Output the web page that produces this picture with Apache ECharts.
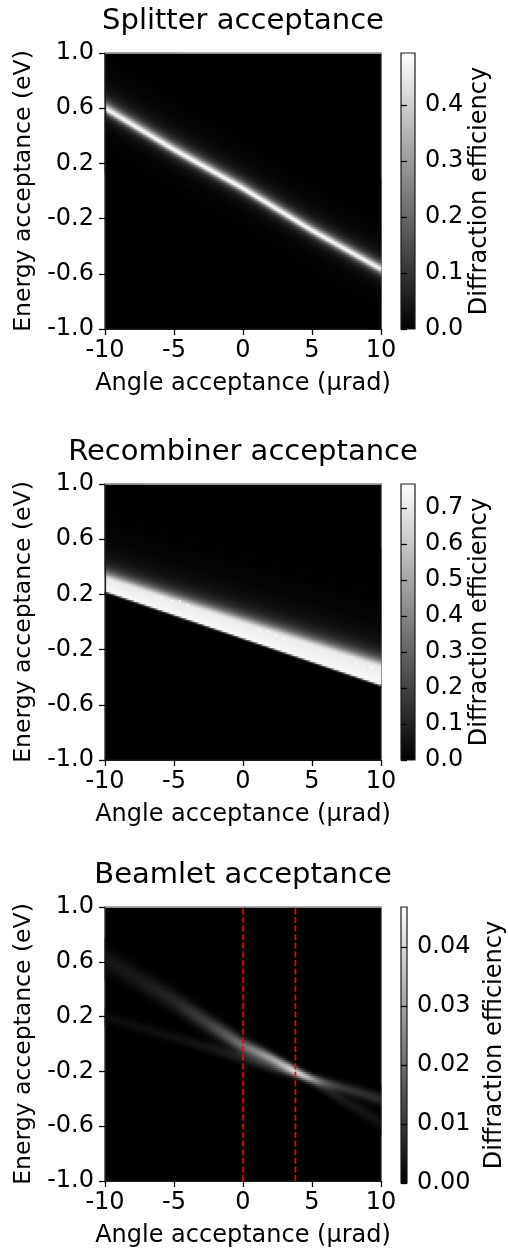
<!DOCTYPE html>
<html><head><meta charset="utf-8">
<script src="https://cdn.jsdelivr.net/npm/echarts@6/dist/echarts.min.js"></script>
<style>html,body{margin:0;padding:0;background:#fff}#c{width:508px;height:1249px}</style>
</head><body><div id="c"></div>
<script>
// ---------------- values ----------------
const titles = ['Splitter acceptance', 'Recombiner acceptance', 'Beamlet acceptance'];
const xName = 'Angle acceptance (µrad)';
const yName = 'Energy acceptance (eV)';
const cbName = 'Diffraction efficiency';
const xTicks = [-10, -5, 0, 5, 10];
const yTicks = [-1.0, -0.6, -0.2, 0.2, 0.6, 1.0];
const colorMax = [0.493, 0.767, 0.0468];
const cbTicks1 = [0, 0.1, 0.2, 0.3, 0.4];
const cbTicks2 = [0, 0.1, 0.2, 0.3, 0.4, 0.5, 0.6, 0.7];
const cbTicks3 = [0, 0.01, 0.02, 0.03, 0.04];
const cbDecimals = [1, 1, 2];

// Splitter: thin ridge (centre energy, peak, half widths above/below) sampled along the angle
const splitAngle = [-10, -5, 0, 5, 10];
const splitCenter = [0.60, 0.30, 0.02, -0.285, -0.565];
const splitPeak = [0.48, 0.49, 0.49, 0.49, 0.48];
const splitHwUp = [0.042, 0.040, 0.038, 0.036, 0.036];
const splitHwDown = [0.026, 0.026, 0.026, 0.026, 0.027];

// Recombiner: broad band with a sharp lower edge
const recAngle = [-10, -5, 0, 5, 10];
const recEdge = [0.23, 0.06, -0.11, -0.28, -0.45];
const recPlateau = [0.745, 0.745, 0.745, 0.745, 0.745];
const recWidth = [0.085, 0.09, 0.10, 0.11, 0.12];
const recTail = [0.05, 0.05, 0.052, 0.054, 0.055];
const recDotAngle = [-5.80, -5.14, -4.57, -3.99, 1.16, 1.81, 2.39, 2.97, 8.19, 8.77, 9.42];
const recDotEnergy = [0.181, 0.159, 0.145, 0.123, -0.058, -0.072, -0.094, -0.116, -0.297, -0.319, -0.333];
const recDotValue = 0.767;

// Beamlet: two crossing ridges
const beamAngle = [-10, -7.5, -5, -2.5, 0, 2, 3.5, 5, 6, 7.5, 10];
const beamACenter = [0.62, 0.47, 0.32, 0.15, -0.01, -0.10, -0.175, -0.26, -0.32, -0.42, -0.57];
const beamAAmp = [0.004, 0.005, 0.007, 0.012, 0.021, 0.029, 0.031, 0.013, 0.007, 0.0045, 0.0035];
const beamASigma = [0.065, 0.06, 0.055, 0.048, 0.04, 0.03, 0.025, 0.026, 0.03, 0.035, 0.04];
const beamBCenter = [0.20, 0.125, 0.05, -0.025, -0.10, -0.16, -0.205, -0.25, -0.28, -0.325, -0.40];
const beamBAmp = [0.0025, 0.0027, 0.003, 0.004, 0.006, 0.009, 0.015, 0.017, 0.014, 0.010, 0.008];
const beamBSigma = [0.03, 0.03, 0.03, 0.03, 0.03, 0.028, 0.024, 0.022, 0.024, 0.028, 0.032];
const beamletCuts = [0, 3.8];

// ---------------- build the heatmap cells ----------------
const NX = 138, NY = 138;
const xCats = [], yCats = [];
for (let i = 0; i < NX; i++) xCats.push((-10 + (i + 0.5) * 20 / NX).toFixed(3));
for (let j = 0; j < NY; j++) yCats.push((-1 + (j + 0.5) * 2 / NY).toFixed(4));

function lookup(xs, ys, x) {
  if (x <= xs[0]) return ys[0];
  for (let k = 1; k < xs.length; k++) {
    if (x <= xs[k]) { const t = (x - xs[k-1]) / (xs[k] - xs[k-1]); return ys[k-1] + t * (ys[k] - ys[k-1]); }
  }
  return ys[ys.length - 1];
}

function buildCells(fn, thr) {
  const out = [];
  for (let i = 0; i < NX; i++) {
    const th = +xCats[i];
    for (let j = 0; j < NY; j++) {
      const v = fn(th, +yCats[j]);
      if (v > thr) out.push([i, j, +v.toFixed(5)]);
    }
  }
  return out;
}

const split = buildCells((th, E) => {
  const c = lookup(splitAngle, splitCenter, th);
  const p = lookup(splitAngle, splitPeak, th);
  const d = E - c;
  const w = d > 0 ? lookup(splitAngle, splitHwUp, th) : lookup(splitAngle, splitHwDown, th);
  return p / (1 + (d / w) * (d / w));
}, 0.0015);

const rec = buildCells((th, E) => {
  const e = lookup(recAngle, recEdge, th);
  const P = lookup(recAngle, recPlateau, th);
  const W = lookup(recAngle, recWidth, th);
  const t0 = lookup(recAngle, recTail, th);
  const d = E - e;
  if (d < 0) return P * Math.exp(-(d / 0.011) * (d / 0.011));
  if (d <= W) return P * (1 - 0.05 * d / W);
  const t = d - W;
  return P * 0.95 / (1 + (t / t0) * (t / t0));
}, 0.003);
// bright specks inside the recombiner band
recDotAngle.forEach((a, k) => {
  const i = Math.floor((a + 10) / 20 * NX), j = Math.floor((recDotEnergy[k] + 1) / 2 * NY);
  const cell = rec.find(c => c[0] === i && c[1] === j);
  if (cell) cell[2] = recDotValue; else rec.push([i, j, recDotValue]);
});

const beam = buildCells((th, E) => {
  const ca = lookup(beamAngle, beamACenter, th), aa = lookup(beamAngle, beamAAmp, th), sa = lookup(beamAngle, beamASigma, th);
  const cb = lookup(beamAngle, beamBCenter, th), ab = lookup(beamAngle, beamBAmp, th), sb = lookup(beamAngle, beamBSigma, th);
  const da = (E - ca) / sa, db = (E - cb) / sb;
  return aa * Math.exp(-0.5 * da * da) + ab * Math.exp(-0.5 * db * db);
}, 0.0002);

// ---------------- chart ----------------
const FONT = 'DejaVu Sans';
const panels = [
  { top: 53, h: 276, data: split, cbTicks: cbTicks1, nameGapCb: 53 },
  { top: 484, h: 276, data: rec, cbTicks: cbTicks2, nameGapCb: 53 },
  { top: 907, h: 276, data: beam, cbTicks: cbTicks3, nameGapCb: 76 }
];
const L = 105, W = 276, CBL = 401, CBW = 14;

const grid = [], xAxis = [], yAxis = [], series = [], visualMap = [], graphic = [];
const lineCol = '#1a1a1a';
panels.forEach((p, k) => {
  grid.push({ left: L, top: p.top, width: W, height: p.h, show: true, backgroundColor: '#000', borderColor: lineCol, borderWidth: 1.2 });
});
panels.forEach((p, k) => {
  grid.push({ left: CBL, top: p.top, width: CBW, height: p.h, show: true,
    backgroundColor: new echarts.graphic.LinearGradient(0, 0, 0, 1, [{ offset: 0, color: '#fff' }, { offset: 1, color: '#000' }]),
    borderColor: lineCol, borderWidth: 1.2 });
});

const tickLabel = { fontFamily: FONT, fontSize: 24, color: '#000' };
panels.forEach((p, k) => {
  xAxis.push({ type: 'category', gridIndex: k, data: xCats, show: false });
  yAxis.push({ type: 'category', gridIndex: k, data: yCats, show: false });
  xAxis.push({ type: 'value', gridIndex: k, position: 'bottom', min: -10, max: 10, interval: 5, z: 10,
    axisLine: { show: true, onZero: false, lineStyle: { color: lineCol, width: 1.2 } },
    axisTick: { show: true, length: 6, lineStyle: { color: '#000', width: 1.3 } },
    axisLabel: { ...tickLabel, margin: 10, formatter: v => String(v) },
    splitLine: { show: false },
    name: xName, nameLocation: 'middle', nameGap: 43, nameTextStyle: { fontFamily: FONT, fontSize: 24, color: '#000' } });
  yAxis.push({ type: 'value', gridIndex: k, position: 'left', min: -1, max: 1, z: 10,
    axisLine: { show: true, onZero: false, lineStyle: { color: lineCol, width: 1.2 } },
    axisTick: { show: true, length: 6, customValues: yTicks, lineStyle: { color: '#000', width: 1.3 } },
    axisLabel: { ...tickLabel, margin: 11, customValues: yTicks, formatter: v => v.toFixed(1) },
    splitLine: { show: false },
    name: yName, nameLocation: 'middle', nameGap: 65, nameRotate: 90, nameTextStyle: { fontFamily: FONT, fontSize: 23.5, color: '#000' } });
});
panels.forEach((p, k) => {
  xAxis.push({ type: 'value', gridIndex: 3 + k, show: false, min: 0, max: 1 });
  yAxis.push({ type: 'value', gridIndex: 3 + k, position: 'right', min: 0, max: colorMax[k],
    axisLine: { show: false },
    axisTick: { show: true, length: 6, customValues: p.cbTicks, lineStyle: { color: '#000', width: 1.3 } },
    axisLabel: { ...tickLabel, margin: 10, customValues: p.cbTicks, formatter: v => v.toFixed(cbDecimals[k]) },
    splitLine: { show: false },
    name: cbName, nameLocation: 'middle', nameGap: p.nameGapCb, nameRotate: 90, nameTextStyle: { fontFamily: FONT, fontSize: 24, color: '#000' } });
});
panels.forEach((p, k) => {
  xAxis.push({ type: 'value', gridIndex: k, position: 'top', min: -10, max: 10, z: 10,
    axisLine: { show: true, onZero: false, lineStyle: { color: '#b8b8b8', width: 1.5 } },
    axisTick: { show: false }, axisLabel: { show: false }, splitLine: { show: false } });
});

panels.forEach((p, k) => {
  series.push({ type: 'heatmap', xAxisIndex: 2 * k, yAxisIndex: 2 * k, data: p.data, progressive: 0,
    emphasis: { disabled: true }, silent: true, animation: false });
  visualMap.push({ type: 'continuous', show: false, seriesIndex: k, dimension: 2, min: 0, max: colorMax[k],
    inRange: { color: ['#000000', '#ffffff'] } });
  graphic.push({ type: 'text', x: L + W / 2, y: p.top - 32,
    style: { text: titles[k], font: '29px "DejaVu Sans"', fill: '#000', textAlign: 'center', textVerticalAlign: 'middle' } });
});
beamletCuts.forEach(c => {
  series.push({ type: 'line', xAxisIndex: 5, yAxisIndex: 5, data: [[c, -1], [c, 1]], symbol: 'none',
    lineStyle: { color: '#ff0000', width: 1.6, type: [6, 2.6] }, silent: true, animation: false, z: 5 });
});

const chart = echarts.init(document.getElementById('c'), null, { renderer: 'canvas' });
chart.setOption({ animation: false, backgroundColor: '#fff', grid, xAxis, yAxis, series, visualMap, graphic });
</script></body></html>
